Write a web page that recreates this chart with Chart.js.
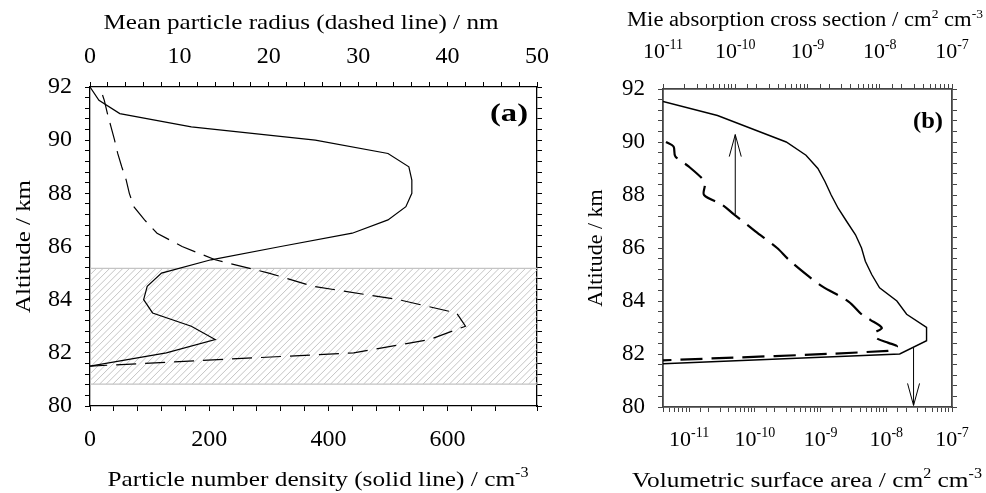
<!DOCTYPE html>
<html>
<head>
<meta charset="utf-8">
<script src="https://cdn.jsdelivr.net/npm/chart.js@4.4.1/dist/chart.umd.min.js"></script>
<style>
  html, body { margin: 0; padding: 0; background: #fff; }
  #wrap { position: relative; width: 986px; height: 493px; overflow: hidden; }
  canvas { position: absolute; top: 0; }
  #chartA { left: 0; }
  #chartB { left: 560px; }
</style>
</head>
<body>
<div id="wrap">
  <canvas id="chartA" width="560" height="493"></canvas>
  <canvas id="chartB" width="426" height="493"></canvas>
</div>
<script>
// ---- panel (a) ----
const altDensity = [92, 91.5, 91, 90.5, 90, 89.5, 89, 88.5, 88, 87.5, 87, 86.5, 86, 85.5, 85, 84.5, 84, 83.5, 83, 82.5, 82, 81.5];
const density    = [0, 15, 50, 170, 378, 500, 535, 540, 540, 530, 500, 440, 320, 203, 120, 96, 90, 105, 170, 210, 128, 0];
const altRadius  = [91.7, 91.5, 91, 90.5, 90, 89.5, 89, 88.5, 88, 87.5, 87, 86.5, 86, 85.5, 85, 84.5, 84, 83.5, 83, 82.5, 82, 81.5];
const radius     = [1.4, 1.6, 1.95, 2.35, 2.75, 3.1, 3.55, 4.05, 4.4, 4.9, 6.1, 7.5, 10.3, 14, 20, 25, 34.5, 41, 42, 38, 29.5, 0];
const layerAlt   = [80.82, 85.18];   // hatched band

// ---- panel (b) ----
const altSurface  = [91.53, 91, 90, 89.5, 89, 88.5, 88, 87.5, 87, 86.5, 86, 85.5, 85, 84.5, 84, 83.5, 83, 82.5, 82, 81.63];
const surfaceArea = [4e-12, 2.7e-11, 3.0e-10, 6.0e-10, 9.1e-10, 1.17e-9, 1.45e-9, 1.85e-9, 2.5e-9, 3.4e-9, 4.2e-9, 4.8e-9, 6.0e-9, 7.9e-9, 1.45e-8, 2.04e-8, 4.1e-8, 4.1e-8, 1.6e-8, 4e-12];
const altMie  = [90.0, 89.83, 89.46, 89.08, 88.58, 88.39, 88.0, 87.63, 87.28, 86.63, 86.0, 85.56, 84.93, 84.55, 83.98, 83.48, 83.29, 82.98, 82.8, 82.6, 82.42, 82.29, 82.12, 81.76];
const mieAbs  = [1.1e-11, 1.4e-11, 1.48e-11, 2.26e-11, 3.6e-11, 3.8e-11, 3.7e-11, 6.6e-11, 9.5e-11, 1.9e-10, 3.8e-10, 5.5e-10, 1.04e-9, 1.6e-9, 3.7e-9, 5.7e-9, 7.4e-9, 1.07e-8, 8.5e-9, 9e-9, 1.32e-8, 1.73e-8, 1.3e-8, 1e-11];
const arrowUpValue = 1e-10;     // on top axis
const arrowUpAlt   = [87.28, 90.28];
const arrowDownValue = 2.6e-8;  // on bottom axis
const arrowDownAlt   = [82.23, 80.06];
const logDecades = [-11, -10, -9, -8, -7];

const FAM = "'Liberation Serif', 'Times New Roman', serif";

function pts(xs, ys) { return xs.map((v, i) => ({ x: v, y: ys[i] })); }

// text with superscripts; parts = [[text, isSup]], centred on x, baseline y
function drawRich(ctx, parts, x, y, size, opt = {}) {
  const sup = Math.round(size * 0.62);
  const weight = opt.bold ? 'bold ' : '';
  let w = 0;
  parts.forEach(([t, s]) => { ctx.font = weight + (s ? sup : size) + 'px ' + FAM; w += ctx.measureText(t).width; });
  const sx = opt.width ? opt.width / w : 1;
  ctx.save();
  ctx.translate(x, y);
  if (opt.rot) ctx.rotate(opt.rot);
  ctx.scale(sx, 1);
  ctx.fillStyle = '#000';
  ctx.textAlign = 'left';
  ctx.textBaseline = 'alphabetic';
  let cx = -w / 2;
  parts.forEach(([t, s]) => {
    ctx.font = weight + (s ? sup : size) + 'px ' + FAM;
    ctx.fillText(t, cx, s ? -size * 0.42 : 0);
    cx += ctx.measureText(t).width;
  });
  ctx.restore();
}

function axisBase(color, width) {
  return {
    grid: { drawOnChartArea: false, drawTicks: true, tickLength: 5, tickColor: color, tickWidth: 1 },
    border: { display: true, color: color, width: width },
  };
}

// ---------------- chart (a) ----------------
const hatchPlugin = {
  id: 'hatch',
  beforeDatasetsDraw(chart) {
    const { ctx, chartArea: a, scales } = chart;
    const yTop = scales.y.getPixelForValue(layerAlt[1]);
    const yBot = scales.y.getPixelForValue(layerAlt[0]);
    const h = yBot - yTop;
    ctx.save();
    ctx.beginPath();
    ctx.rect(a.left, yTop, a.right - a.left, h);
    ctx.clip();
    ctx.strokeStyle = '#bdbdbd';
    ctx.lineWidth = 0.9;
    ctx.beginPath();
    for (let k = a.left - h; k < a.right + 6; k += 6.6) {
      ctx.moveTo(k, yBot);
      ctx.lineTo(k + h, yTop);
    }
    ctx.stroke();
    ctx.restore();
    ctx.save();
    ctx.strokeStyle = '#c4c4c4';
    ctx.lineWidth = 1.3;
    ctx.beginPath();
    ctx.moveTo(a.left, yTop); ctx.lineTo(a.right, yTop);
    ctx.moveTo(a.left, yBot); ctx.lineTo(a.right, yBot);
    ctx.stroke();
    ctx.restore();
  },
  afterDraw(chart) {
    const { ctx, chartArea: a } = chart;
    drawRich(ctx, [['Mean particle radius (dashed line) / nm']], 301, 29, 22, { width: 395 });
    drawRich(ctx, [['Particle number density (solid line) / cm'], ['-3', true]], 318, 486, 22, { width: 421 });
    drawRich(ctx, [['Altitude / km']], 30, (a.top + a.bottom) / 2, 22, { rot: -Math.PI / 2, width: 133 });
    drawRich(ctx, [['(a)']], 509, 121, 25, { bold: true, width: 38 });
  }
};

const blackA = axisBase('#000', 1.3);
new Chart(document.getElementById('chartA'), {
  type: 'scatter',
  data: {
    datasets: [
      { data: pts(density, altDensity), xAxisID: 'x', yAxisID: 'y', showLine: true,
        borderColor: '#000', borderWidth: 1.2, pointRadius: 0, tension: 0 },
      { data: pts(radius, altRadius), xAxisID: 'x2', yAxisID: 'y', showLine: true,
        borderColor: '#000', borderWidth: 1.2, borderDash: [20, 9], pointRadius: 0, tension: 0 },
    ]
  },
  options: {
    responsive: false, animation: false, devicePixelRatio: 1,
    layout: { padding: 0 },
    plugins: { legend: { display: false }, tooltip: { enabled: false } },
    scales: {
      x: { ...blackA, type: 'linear', position: 'bottom', min: 0, max: 750,
        afterFit: s => { s.height = 87; },
        ticks: { stepSize: 40, autoSkip: false, maxRotation: 0, padding: 14, color: '#000',
          font: { family: FAM, size: 24 },
          callback: v => (v % 200 === 0 && v <= 600 ? String(v) : '') } },
      x2: { ...blackA, type: 'linear', position: 'top', min: 0, max: 50,
        afterFit: s => { s.height = 87; },
        ticks: { stepSize: 2, autoSkip: false, maxRotation: 0, padding: 11, color: '#000',
          font: { family: FAM, size: 24 },
          callback: v => (v % 10 === 0 ? String(v) : '') } },
      y: { ...blackA, type: 'linear', position: 'left', min: 80, max: 92,
        afterFit: s => { s.width = 90; },
        ticks: { stepSize: 0.4, autoSkip: false, padding: 13, color: '#000',
          font: { family: FAM, size: 24 },
          callback: v => (Math.abs(v / 2 - Math.round(v / 2)) < 1e-6 ? String(Math.round(v)) : '') } },
      y2: { ...blackA, type: 'linear', position: 'right', min: 80, max: 92,
        afterFit: s => { s.width = 14; },
        ticks: { stepSize: 0.4, autoSkip: false, callback: () => '' } },
    }
  },
  plugins: [hatchPlugin]
});

// ---------------- chart (b) ----------------
function arrow(ctx, x, y0, y1) {
  const dir = y1 < y0 ? 1 : -1;   // 1: pointing up
  ctx.beginPath();
  ctx.moveTo(x, y0); ctx.lineTo(x, y1);
  ctx.moveTo(x - 6, y1 + dir * 22); ctx.lineTo(x, y1); ctx.lineTo(x + 6, y1 + dir * 22);
  ctx.stroke();
}

const panelBPlugin = {
  id: 'panelB',
  afterDatasetsDraw(chart) {
    const { ctx, scales } = chart;
    ctx.save();
    ctx.strokeStyle = '#000';
    ctx.lineWidth = 1;
    const xu = scales.x2.getPixelForValue(arrowUpValue);
    arrow(ctx, xu, scales.y.getPixelForValue(arrowUpAlt[0]), scales.y.getPixelForValue(arrowUpAlt[1]));
    const xd = scales.x.getPixelForValue(arrowDownValue);
    arrow(ctx, xd, scales.y.getPixelForValue(arrowDownAlt[0]), scales.y.getPixelForValue(arrowDownAlt[1]));
    ctx.restore();
  },
  afterDraw(chart) {
    const { ctx, chartArea: a, scales } = chart;
    logDecades.forEach(e => {
      drawRich(ctx, [['10'], [String(e), true]], scales.x.getPixelForValue(Math.pow(10, e)), 446, 22);
      drawRich(ctx, [['10'], [String(e), true]], scales.x2.getPixelForValue(Math.pow(10, e)), 58, 22);
    });
    drawRich(ctx, [['Mie absorption cross section / cm'], ['2', true], [' cm'], ['-3', true]], 245, 26, 20, { width: 356 });
    drawRich(ctx, [['Volumetric surface area / cm'], ['2', true], [' cm'], ['-3', true]], 247, 487, 22, { width: 350 });
    drawRich(ctx, [['Altitude / km']], 42, (a.top + a.bottom) / 2, 22, { rot: -Math.PI / 2 });
    drawRich(ctx, [['(b)']], 368, 128, 24, { bold: true, width: 30 });
  }
};

const greyB = axisBase('#444', 1.8);
const logTicks = { autoSkip: false, maxRotation: 0, callback: () => '' };
new Chart(document.getElementById('chartB'), {
  type: 'scatter',
  data: {
    datasets: [
      { data: pts(surfaceArea, altSurface), xAxisID: 'x', yAxisID: 'y', showLine: true,
        borderColor: '#000', borderWidth: 1.4, pointRadius: 0, tension: 0 },
      { data: pts(mieAbs, altMie), xAxisID: 'x2', yAxisID: 'y', showLine: true,
        borderColor: '#000', borderWidth: 2.2, borderDash: [22, 9], pointRadius: 0, tension: 0.3 },
    ]
  },
  options: {
    responsive: false, animation: false, devicePixelRatio: 1,
    layout: { padding: 0 },
    plugins: { legend: { display: false }, tooltip: { enabled: false } },
    scales: {
      x: { ...greyB, type: 'logarithmic', position: 'bottom', min: 4e-12, max: 1e-7,
        afterFit: s => { s.height = 86; }, ticks: logTicks },
      x2: { ...greyB, type: 'logarithmic', position: 'top', min: 1e-11, max: 1e-7,
        afterFit: s => { s.height = 89; }, ticks: logTicks },
      y: { ...greyB, type: 'linear', position: 'left', min: 80, max: 92,
        afterFit: s => { s.width = 103; },
        ticks: { stepSize: 0.4, autoSkip: false, padding: 13, color: '#000',
          font: { family: FAM, size: 23 },
          callback: v => (Math.abs(v / 2 - Math.round(v / 2)) < 1e-6 ? String(Math.round(v)) : '') } },
      y2: { ...greyB, type: 'linear', position: 'right', min: 80, max: 92,
        afterFit: s => { s.width = 34; },
        ticks: { stepSize: 0.4, autoSkip: false, callback: () => '' } },
    }
  },
  plugins: [panelBPlugin]
});
</script>
</body>
</html>
